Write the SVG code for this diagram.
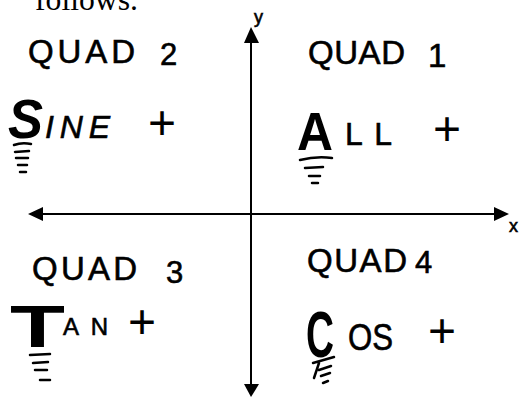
<svg xmlns="http://www.w3.org/2000/svg" width="523" height="398" viewBox="0 0 523 398">
<defs>
<style>
.hw{font-family:"Liberation Sans",Arial,sans-serif;fill:#000;stroke:#000;stroke-width:0.6}
.big{font-family:"Liberation Sans",Arial,sans-serif;font-weight:bold;fill:#000}
.plus{font-family:"Liberation Sans",Arial,sans-serif;fill:#000;text-anchor:middle;font-size:48px}
.mk{stroke:#000;stroke-width:2.5;stroke-linecap:round;fill:none}
.ax{stroke:#000;stroke-width:2;fill:none}
.ah{fill:#000}
</style>
</defs>
<rect width="523" height="398" fill="#fff"/>
<text x="35" y="10" font-family="Liberation Serif,Times New Roman,serif" font-size="32" textLength="103" lengthAdjust="spacingAndGlyphs">follows.</text>

<g id="axes">
<line class="ax" x1="251" y1="40" x2="251" y2="386"/>
<line class="ax" x1="40" y1="214" x2="497" y2="214"/>
<polygon class="ah" points="251,27 244,43 259,43"/>
<polygon class="ah" points="251,397 244,384 259,384"/>
<polygon class="ah" points="28,214 43,207 43,221"/>
<polygon class="ah" points="509,214 494,207 494,221"/>
<text class="hw" x="254" y="23" font-size="18">y</text>
<text class="hw" x="509" y="232" font-size="18">x</text>
</g>

<g id="quad2">
<text class="hw" x="28" y="63" font-size="33" textLength="107">QUAD</text>
<text class="hw" x="160" y="65" font-size="31">2</text>
<text class="big" x="8" y="138" font-size="56" font-style="italic" textLength="35" lengthAdjust="spacingAndGlyphs">S</text>
<text class="hw" x="45" y="138" font-size="32" font-style="italic" textLength="65">INE</text>
<text class="plus" x="162" y="139">+</text>
<path class="mk" d="M14 145 Q22 142 31 144 M15 152 L29 151 M16 158 L28 158 M18 165 L27 165 M20 172 L26 172"/>
</g>

<g id="quad1">
<text class="hw" x="308" y="64" font-size="33" textLength="97">QUAD</text>
<text class="hw" x="428" y="67" font-size="33">1</text>
<text class="big" x="297" y="150" font-size="54" textLength="36" lengthAdjust="spacingAndGlyphs">A</text>
<text class="hw" x="345" y="145" font-size="32" textLength="47">LL</text>
<text class="plus" x="447" y="145">+</text>
<path class="mk" d="M300 160 Q316 156 332 158 M305 168 L323 167 M309 176 L320 176 M312 183 L318 183"/>
</g>

<g id="quad3">
<text class="hw" x="32" y="280" font-size="33" textLength="105">QUAD</text>
<text class="hw" x="166" y="283" font-size="31">3</text>
<text class="big" x="10" y="347" font-size="60" textLength="55" lengthAdjust="spacingAndGlyphs">T</text>
<text class="hw" x="63" y="335" font-size="24" textLength="45">AN</text>
<text class="plus" x="142" y="338">+</text>
<path class="mk" d="M30 355 L50 354 M33 363 L48 362 M35 370 L47 370 M40 380 L50 380"/>
</g>

<g id="quad4">
<text class="hw" x="307" y="272" font-size="33" textLength="100">QUAD</text>
<text class="hw" x="415" y="273" font-size="31">4</text>
<text class="big" x="306" y="357" font-size="64" textLength="28" lengthAdjust="spacingAndGlyphs">C</text>
<text class="hw" x="348" y="350" font-size="36" textLength="45" lengthAdjust="spacingAndGlyphs">OS</text>
<text class="plus" x="442" y="347">+</text>
<path class="mk" d="M313 363 L334 357 M314 378 L319 363 M319 370 L331 366 M321 376 L330 373 M323 383 L328 381"/>
</g>
</svg>
